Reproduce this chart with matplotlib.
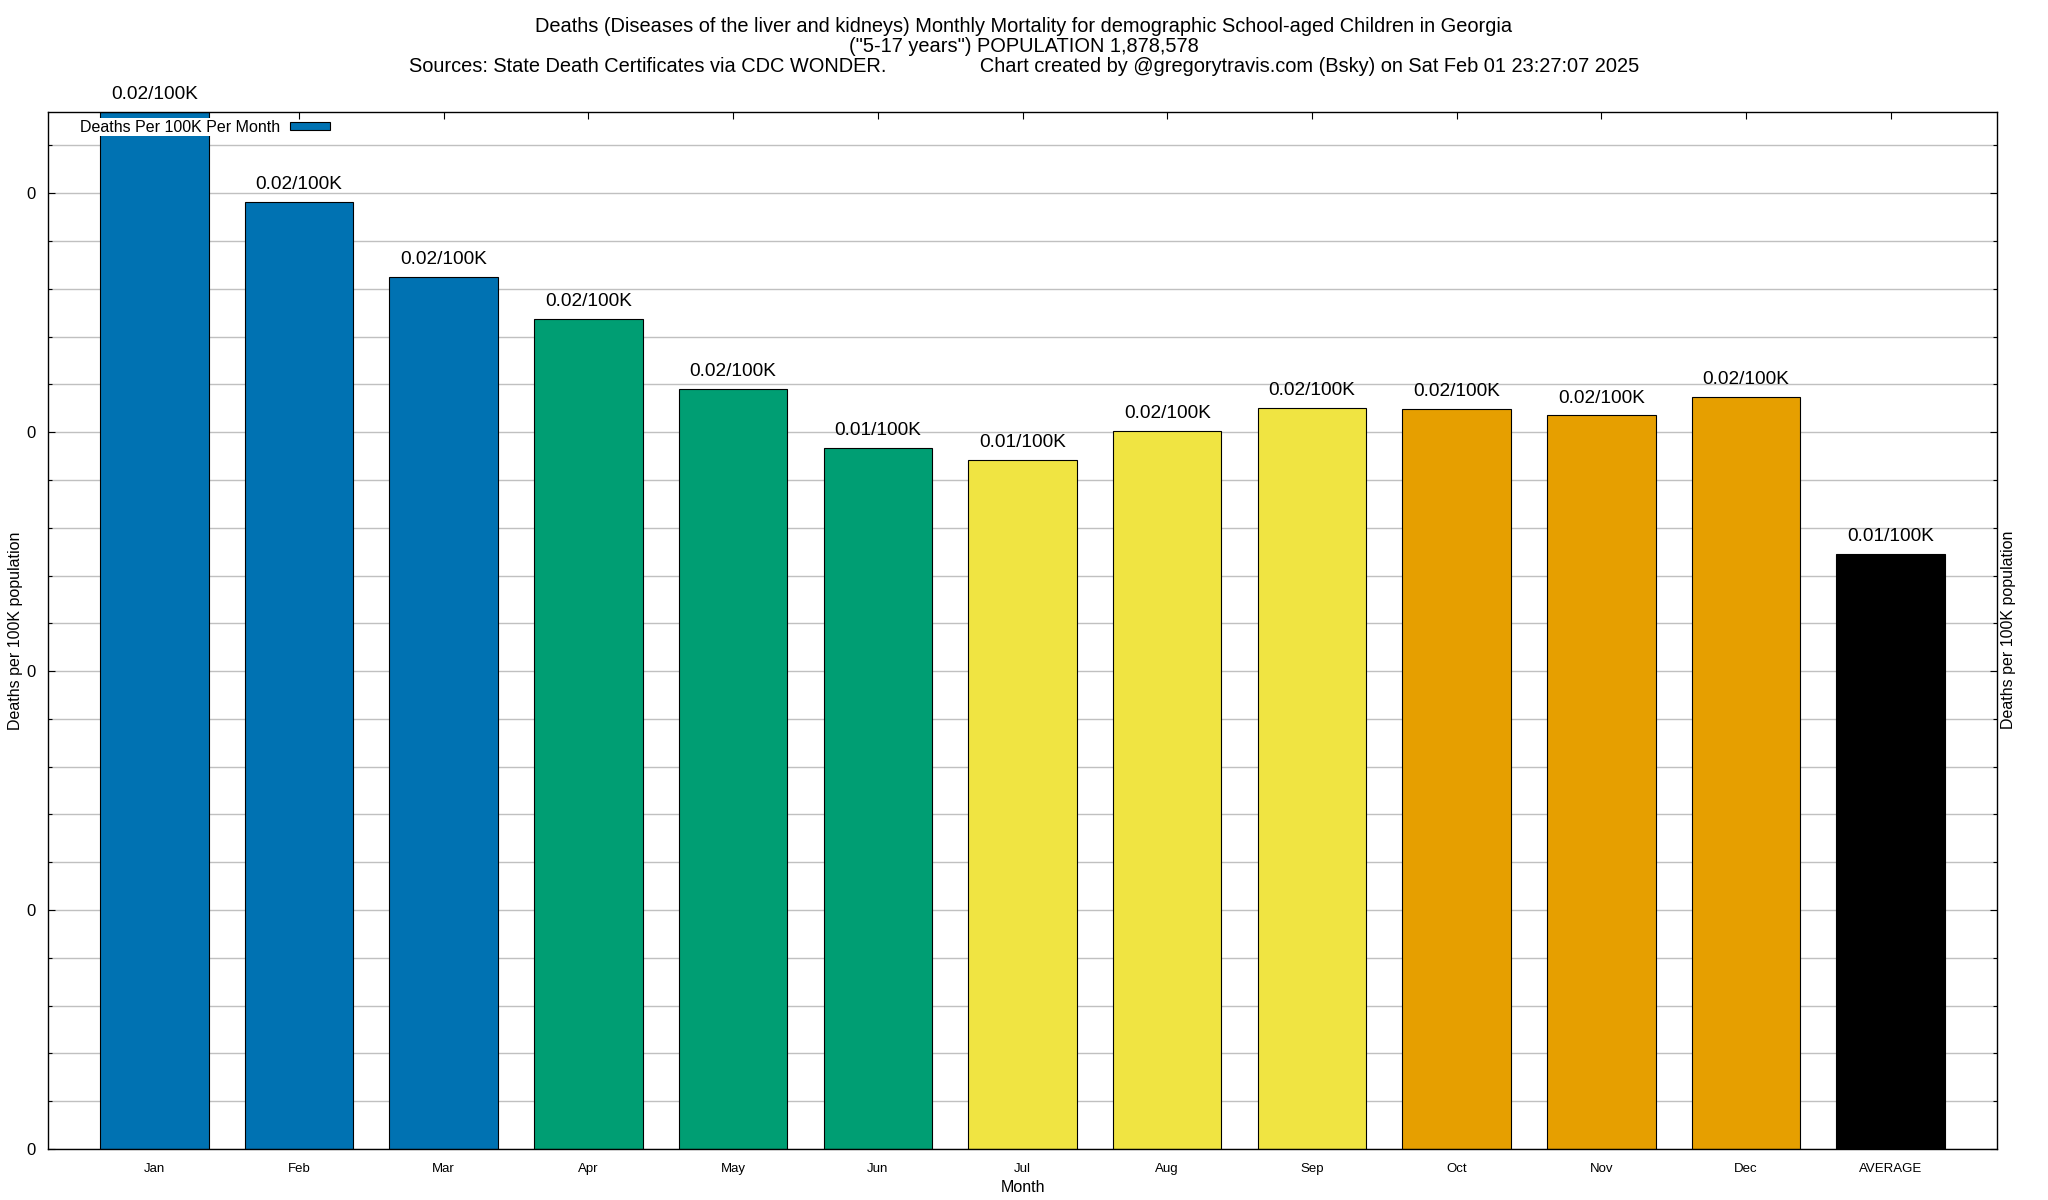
import numpy as np
import matplotlib.pyplot as plt
from matplotlib.ticker import MultipleLocator, FormatStrFormatter

plt.rcParams['font.family'] = ['Liberation Sans', 'DejaVu Sans']

months = ['Jan', 'Feb', 'Mar', 'Apr', 'May', 'Jun', 'Jul', 'Aug', 'Sep', 'Oct', 'Nov', 'Dec', 'AVERAGE']
rates = [0.0217, 0.01981, 0.01824, 0.01737, 0.01590, 0.01467, 0.01442,
         0.01502, 0.01551, 0.01549, 0.01535, 0.01573, 0.01245]
bar_labels = ['0.02/100K', '0.02/100K', '0.02/100K', '0.02/100K', '0.02/100K', '0.01/100K', '0.01/100K',
              '0.02/100K', '0.02/100K', '0.02/100K', '0.02/100K', '0.02/100K', '0.01/100K']
colors = ['#0072B2'] * 3 + ['#009E73'] * 3 + ['#F0E442'] * 3 + ['#E69F00'] * 3 + ['#000000']

title1 = 'Deaths (Diseases of the liver and kidneys) Monthly Mortality for demographic School-aged Children in Georgia'
title2 = '("5-17 years") POPULATION 1,878,578'
title3 = ('Sources: State Death Certificates via CDC WONDER.                 '
          'Chart created by @gregorytravis.com (Bsky) on Sat Feb 01 23:27:07 2025')

fig = plt.figure(figsize=(20.48, 12), dpi=100)
ax = fig.add_axes([48 / 2048, 1 - 1149 / 1200, (1997 - 48) / 2048, (1149 - 112) / 1200])

x = np.arange(len(months))
bars = ax.bar(x, rates, width=0.75, color=colors, edgecolor='black', linewidth=0.8, zorder=2)

for xi, v, lab in zip(x, rates, bar_labels):
    ax.annotate(lab, (xi, v), xytext=(0, 12.5), textcoords='offset points',
                ha='center', va='center', fontsize=13.7, annotation_clip=False)

ax.set_xlim(-0.735, len(months) - 1 + 0.735)
ax.set_ylim(0, max(rates))
ax.set_xticks(x)
ax.set_xticklabels(months, fontsize=9.5)
ax.yaxis.set_major_locator(MultipleLocator(0.005))
ax.yaxis.set_minor_locator(MultipleLocator(0.001))
ax.yaxis.set_major_formatter(FormatStrFormatter('%.0f'))
ax.tick_params(axis='y', labelsize=12, pad=9)
ax.tick_params(axis='both', which='both', direction='in', top=True, right=True, width=0.8, color='black')
ax.tick_params(axis='both', which='major', length=5)
ax.tick_params(axis='y', which='minor', length=3)
ax.tick_params(axis='x', pad=10)
ax.grid(True, axis='y', which='both', color='#c0c0c0', linewidth=1.0)
ax.set_axisbelow(True)
for s in ax.spines.values():
    s.set_linewidth(1.0)
    s.set_zorder(3)

ax.set_xlabel('Month', fontsize=11.5, labelpad=4)
ax.set_ylabel('Deaths per 100K population', fontsize=11.5, labelpad=2)
fig.text(2009 / 2048, 1 - 630 / 1200, 'Deaths per 100K population', rotation=90,
         ha='center', va='center', fontsize=11.5)

leg = ax.legend([bars[0]], ['Deaths Per 100K Per Month'], loc='center left',
                bbox_to_anchor=(0.0164, 0.9855), frameon=False, markerfirst=False,
                borderaxespad=0, borderpad=0,
                handlelength=2.5, handleheight=0.45, handletextpad=0.6, fontsize=11.5)
leg.get_texts()[0].set_bbox(dict(facecolor='white', edgecolor='none', pad=1))

fig.text(0.5, 1 - 26 / 1200, title1, ha='center', va='center', fontsize=14.4)
fig.text(0.5, 1 - 46 / 1200, title2, ha='center', va='center', fontsize=14.4)
fig.text(0.5, 1 - 66 / 1200, title3, ha='center', va='center', fontsize=14.4)

fig.savefig('out.png', dpi=100)
